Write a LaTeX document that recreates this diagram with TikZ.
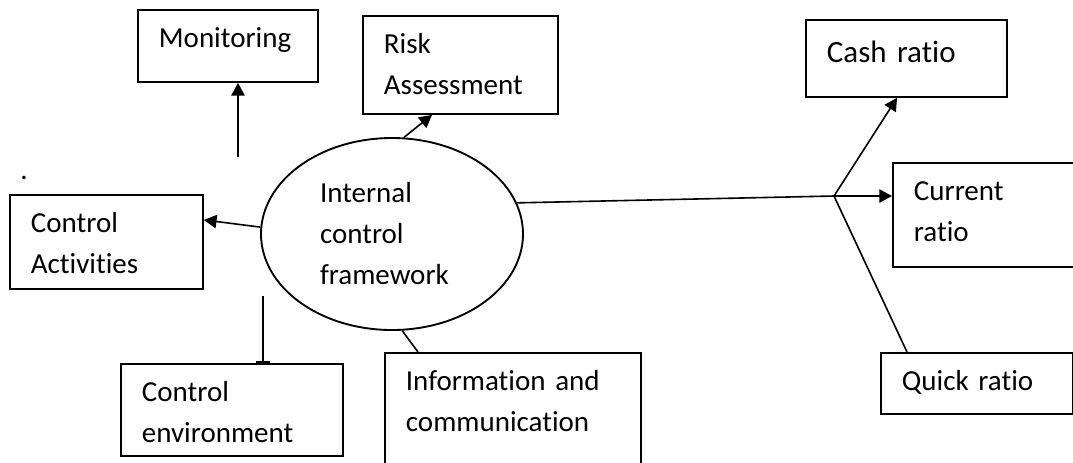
\documentclass[tikz,border=0pt]{standalone}
\usepackage{fontspec}
\setmainfont{Carlito}[Ligatures=NoCommon]
\usepackage{tikz}
\usetikzlibrary{shapes,arrows.meta}
\tikzstyle{block} = [rectangle, draw=black, line width=1.4pt, anchor=north west, align=left, inner xsep=15.75pt, inner ysep=0pt, text height=28.5pt, font=\fontsize{21.75pt}{30.75pt}\selectfont]
\tikzstyle{hub} = [ellipse, draw=black, line width=1.4pt, align=left, inner sep=0pt, minimum width=196.5pt, minimum height=144pt, text width=108pt, font=\fontsize{21.75pt}{30.75pt}\selectfont]
\tikzstyle{textonly} = [draw=none, fill=none, anchor=base, inner sep=0pt, font=\fontsize{21.75pt}{30.75pt}\selectfont]
\tikzstyle{tedge} = [draw, line width=1.2pt, -{Triangle[length=9.5pt,width=10pt]}]
\tikzstyle{pedge} = [draw, line width=1.2pt]

\begin{document}
\begin{tikzpicture}[x=0.75pt, y=-0.75pt]
\useasboundingbox (0,0) rectangle (1073,462);

% components =============================
\node[hub] (framework) at (392,234) {Internal\\control\\framework};
\node[block, text width=103.5pt, text depth=25.5pt] (monitor) at (137,9) {Monitoring};
\node[block, text width=114.75pt, text depth=45pt] (risk) at (362,15) {Risk\\Assessment};
\node[block, text width=113.25pt, text depth=42pt] (activities) at (9,194) {Control\\Activities};
\node[block, text width=135pt, text depth=40.5pt] (environment) at (120,363) {Control\\environment};
\node[block, text width=160.5pt, text depth=67.5pt] (info) at (384,352) {Information and\\communication};
\node[textonly] (dot) at (24,179) {.};

% ratios =============================
\node[block, text width=119.25pt, text height=32.25pt, text depth=25.5pt, font=\fontsize{23.25pt}{30.75pt}\selectfont] (cash) at (805,19) {Cash ratio};
\node[block, text width=105.75pt, text depth=49.5pt] (current) at (892,162) {Current\\ratio};
\node[block, text width=112.5pt, text depth=17.25pt] (quick) at (880,352) {Quick ratio};

% edges
\coordinate (mstart) at (238,157);
\coordinate (estart) at (263,296);
\coordinate (split) at (834,196);
\path[tedge] (mstart) -- (mstart |- monitor.south);
\path[draw, line width=1.2pt, -{Bar[width=11pt]}] (estart) -- (estart |- environment.north);
\path[tedge] (framework.177) -- ([yshift=16.5pt]activities.east);
\path[tedge] (framework.83) -- ([xshift=52.5pt]risk.south west);
\path[pedge] (framework.276) -- ([xshift=25.5pt]info.north west);
\path[pedge] (framework.14) -- (split);
\path[tedge] (split) -- ([xshift=69pt]cash.south west);
\path[tedge] (split) -- (current.west |- split);
\path[pedge] (split) -- ([xshift=20.25pt]quick.north west);

\end{tikzpicture}
\end{document}
